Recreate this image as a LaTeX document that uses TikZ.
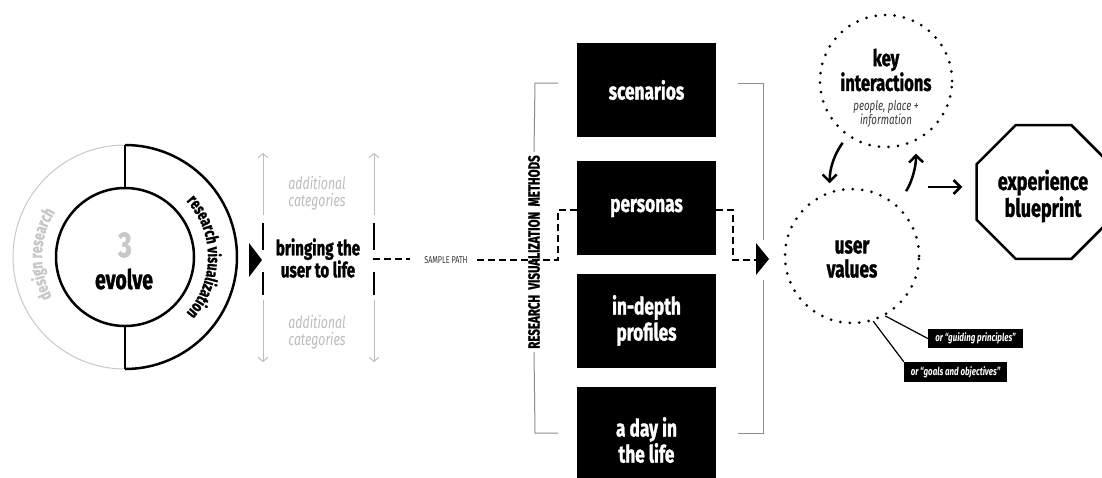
\documentclass[tikz,border=0pt]{standalone}
\usepackage{fontspec}
\setmainfont{Fira Sans}[FakeStretch=0.72, BoldFeatures={FakeBold=1.2}]
\usetikzlibrary{arrows.meta,shapes.geometric,decorations.text,calc}
\definecolor{lg}{HTML}{C8C8C8}
\definecolor{catc}{HTML}{BDBDBD}
\definecolor{brkc}{HTML}{8C8C8C}
\definecolor{dk}{HTML}{3A3A3A}
\newcommand\fsz[2]{\fontsize{#1}{#2}\selectfont}
\begin{document}
\begin{tikzpicture}[x=1pt,y=1pt,
  blk/.style={fill=black, text=white, minimum width=139pt, minimum height=94pt, inner sep=0pt, font=\bfseries\fsz{24}{26}, align=center},
  dotc/.style={circle, draw, line width=3pt, dash pattern=on 0pt off 9.5pt, line cap=round, inner sep=0pt},
  graytick/.style={draw=catc, line width=1pt, -{Straight Barb[length=4pt,width=10pt]}},
  brkline/.style={draw=brkc, line width=1pt},
  sampledash/.style={line width=2pt, dash pattern=on 7pt off 4pt},
  curv/.style={line width=2.5pt, -{Straight Barb[length=7pt,width=14pt]}},
  lab/.style={fill=black, text=white, font=\bfseries\itshape\fsz{11}{11}, inner sep=0pt},
  thick2/.style={line width=2.5pt}
]
\fill[white] (0,0) rectangle (1102,-477);
\useasboundingbox (0,0) rectangle (1102,-477);

% ---- left ring ----
\coordinate (rc) at (125,-257);
\draw[lg, line width=1pt] (125,-145) arc[start angle=90, end angle=270, radius=112];
\draw[thick2] (125,-145) arc[start angle=90, end angle=-90, radius=112];
\node[circle, draw, thick2, minimum size=138pt, inner sep=0pt] (ev) at (rc) {};
\draw[thick2] (125,-145) -- (ev.north);
\draw[thick2] (ev.south) -- (125,-369);
\node[font=\bfseries\fsz{36}{36}, text=lg] (three) at (125,-245) {3};
\node[font=\bfseries\fsz{27}{27}] (evolve) at (124,-279) {evolve};
\path[decorate, decoration={text along path, text align=center,
  text={|\bfseries\fsz{17}{17}\color{lg}|design research}}]
  (rc) ++(258:83) arc[start angle=258, end angle=98, radius=83];
\path[decorate, decoration={text along path, text align=center,
  text={|\bfseries\fsz{17}{17}|research visualization}}]
  (rc) ++(80:83) arc[start angle=80, end angle=-80, radius=83];

% triangle after ring
\fill (249,-243) -- (262,-260) -- (249,-277) -- cycle;

% ---- bringing the user to life ----
\node[font=\bfseries\fsz{21}{22}, align=center] (bring) at (318,-258) {bringing the\\user to life};
\node[font=\itshape\fsz{17}{17}, text=catc, align=center] (cat1) at (317,-193) {additional\\categories};
\node[font=\itshape\fsz{17}{17}, text=catc, align=center] (cat2) at (317,-332) {additional\\categories};
\foreach \xx in {263,374}{
  \draw[graytick] (\xx,-215) -- (\xx,-153);
  \draw[graytick] (\xx,-300) -- (\xx,-362);
  \draw[line width=2pt] (\xx,-223) -- (\xx,-250);
  \draw[line width=2pt] (\xx,-272) -- (\xx,-295);
}

% ---- sample path ----
\node[font=\fsz{10}{10}, text=dk] (samp) at (446,-260) {SAMPLE PATH};
\coordinate (s1) at (373,-259);
\coordinate (s2) at (410,-259);
\coordinate (s3) at (477,-260);
\coordinate (s4) at (558,-260);
\coordinate (s5) at (558,-210);
\draw[sampledash] (s1) -- (s2);

% ---- boxes ----
\node[blk] (scen) at (646.5,-90) {scenarios};
\node[blk] (pers) at (646.5,-208) {personas};
\node[blk] (indep) at (646.5,-320.5) {in-depth\\profiles};
\node[blk, minimum height=106pt] (aday) at (646.5,-440) {a day in\\the life};

\draw[sampledash] (s3) -- (s4) -- (s5) -- (s5 -| pers.west);
\coordinate (r1) at (733,-210);
\coordinate (r2) at (733,-260);
\coordinate (r3) at (756,-260);
\draw[sampledash] (r1 -| pers.east) -- (r1) -- (r2) -- (r3);

% brackets
\node[font=\bfseries\fsz{16}{16}, rotate=90] (rvm) at (534,-252) {RESEARCH\ \ VISUALIZATION\ \ METHODS};
\draw[brkline] (558,-83) -- (535,-83) -- (rvm.east);
\draw[brkline] (rvm.west) -- (535,-433) -- (558,-433);
\draw[brkline] (738,-83) -- (763,-83) -- (763,-240);
\draw[brkline] (763,-280) -- (763,-433) -- (738,-433);
\fill (756,-243) -- (769,-259) -- (756,-275) -- cycle;

% ---- right part ----
\node[dotc, minimum size=132pt] (ki) at (886,-81) {};
\node[font=\bfseries\fsz{23}{21}, align=center] (kit) at (886,-70) {key\\interactions};
\node[font=\itshape\fsz{13.5}{13}, text=dk, align=center] (kis) at (886,-114) {people, place +\\information};

\node[dotc, minimum size=134pt] (uv) at (852,-256) {};
\node[font=\bfseries\fsz{24}{24}, align=center] (uvt) at (852,-259) {user\\values};

\node[regular polygon, regular polygon sides=8, draw, line width=2.5pt, minimum size=145pt, inner sep=0pt] (oct) at (1043.5,-192) {};
\node[font=\bfseries\fsz{25}{25}, align=center] (octt) at (1043,-196) {experience\\blueprint};

\draw[curv, shorten <=8pt, shorten >=8pt] (ki.235) to[bend right=18] (uv.109);
\draw[curv, shorten <=16pt, shorten >=12pt] (uv.49) to[bend right=18] (ki.-64);
\coordinate (a3) at (928,-187);
\draw[curv, shorten >=13pt] (a3) -- (a3 -| oct.west);

\node[lab, minimum width=95pt, minimum height=19pt] (g1) at (975.5,-338.5) {or “guiding principles”};
\node[lab, minimum width=103pt, minimum height=20pt] (g2) at (955.5,-372) {or “goals and objectives”};
\draw[line width=1.2pt] (uv.-61) -- (g1.west);
\draw[line width=1.2pt] (uv.-72) -- (g2.north west);
\end{tikzpicture}
\end{document}
